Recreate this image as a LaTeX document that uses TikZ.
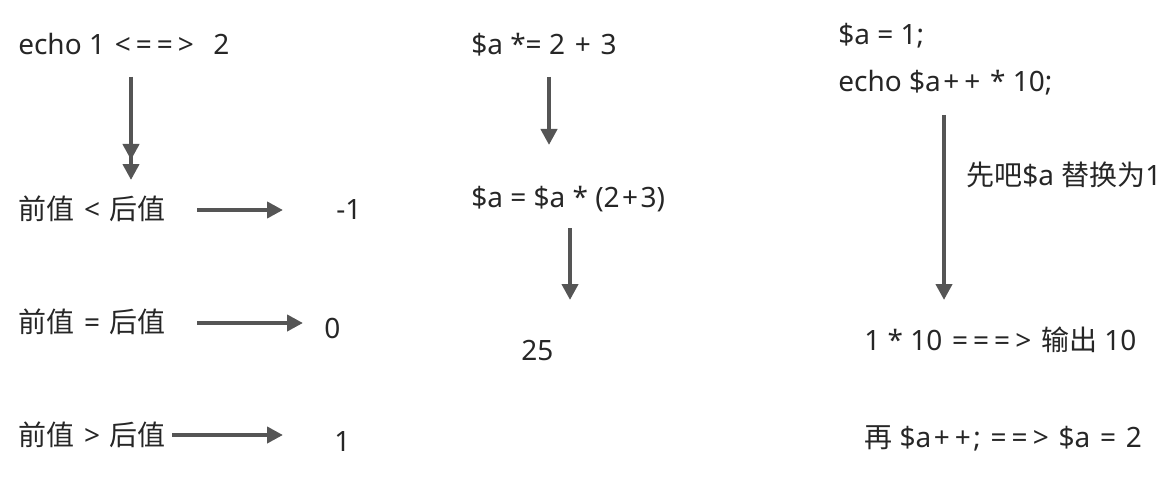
\documentclass[tikz,border=0pt]{standalone}
\usepackage{fontspec}
\setmainfont{Noto Sans}
\newfontfamily\cjk{Noto Sans CJK SC}
\usetikzlibrary{arrows.meta}
\definecolor{txt}{HTML}{262626}
\definecolor{arr}{HTML}{555555}
\newcommand\ws[1]{\kern0.09em\relax#1\kern0.09em\relax}
\begin{document}
\begin{tikzpicture}[x=0.75pt,y=-0.75pt,
  lbl/.style={anchor=base west,inner sep=0pt,text=txt,font=\fontsize{21}{25}\selectfont},
  conn/.style={draw=arr,line width=3pt,-{Triangle[length=12pt,width=12pt]}}]
\useasboundingbox (0,0) rectangle (1176,481);
% left column
\node[lbl] (echo) at (18,55) {echo 1 \ws{<}\ws{=}\ws{=}\ws{>}\hspace{0.6em}2};
\node[lbl] (lt) at (18,219) {{\cjk 前值}\hspace{0.35em}<\hspace{0.35em}{\cjk 后值}};
\node[lbl] (eq) at (18,332) {{\cjk 前值}\hspace{0.35em}=\hspace{0.35em}{\cjk 后值}};
\node[lbl] (gt) at (18,445) {{\cjk 前值}\hspace{0.35em}>\hspace{0.35em}{\cjk 后值}};
\node[lbl] (rm1) at (336,219) {-1};
\node[lbl] (r0) at (324,338) {0};
\node[lbl] (r1) at (334,451) {1};
\coordinate (a1s) at (131,77);
\coordinate (a1e) at (131,180);
\coordinate (a1m) at (131,160);
\draw[conn] (a1s) -- (a1e);
\draw[conn] (a1s) -- (a1m);
\coordinate (h1s) at (197,210);
\coordinate (h1e) at (283,210);
\draw[conn] (h1s) -- (h1e);
\coordinate (h2s) at (197,323);
\coordinate (h2e) at (303,323);
\draw[conn] (h2s) -- (h2e);
\coordinate (h3s) at (172,435);
\coordinate (h3e) at (283,435);
\draw[conn] (h3s) -- (h3e);
% middle column
\node[lbl] (m1) at (471,55) {\$a *= 2 \ws{+} 3};
\node[lbl] (m2) at (471,207) {\$a = \$a * (2\ws{+}3)};
\node[lbl] (m3) at (521,360) {25};
\coordinate (v1s) at (549,77);
\coordinate (v1e) at (549,145);
\draw[conn] (v1s) -- (v1e);
\coordinate (v2s) at (570,228);
\coordinate (v2e) at (570,300);
\draw[conn] (v2s) -- (v2e);
% right column
\node[lbl] (r1a) at (838,45) {\$a = 1;};
\node[lbl] (r1b) at (838,92) {echo \$a\ws{+}\ws{+} * 10;};
\node[lbl] (rlab) at (966,185) {{\cjk 先吧}\$a {\cjk 替换为}1};
\node[lbl] (r2) at (864,350) {1 * 10 \ws{=}\ws{=}\ws{=}\ws{>} {\cjk 输出} 10};
\node[lbl] (r3) at (864,447) {{\cjk 再} \$a\ws{+}\ws{+}; \ws{=}\ws{=}\ws{>} \$a \ws{=} 2};
\coordinate (v3s) at (944,115);
\coordinate (v3e) at (944,300);
\draw[conn] (v3s) -- (v3e);
\end{tikzpicture}
\end{document}
